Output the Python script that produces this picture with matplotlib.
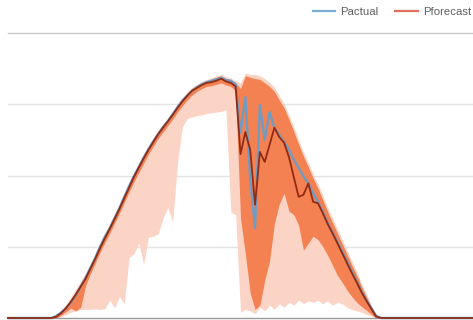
import matplotlib
matplotlib.use("Agg")
import matplotlib.pyplot as plt
import numpy as np

# 15-minute slots over one day (0..96)
slots = list(range(97))

p_actual = [0, 0, 0, 0, 0, 0, 0, 0, 0, 0.0,
            0.03, 0.08, 0.14, 0.22, 0.32, 0.44, 0.56, 0.70, 0.84, 1.00,
            1.14, 1.26, 1.40, 1.54, 1.70, 1.85, 1.99, 2.12, 2.25, 2.37,
            2.48, 2.58, 2.68, 2.76, 2.86, 2.96, 3.05, 3.12, 3.19, 3.24,
            3.28, 3.31, 3.33, 3.35, 3.37, 3.34, 3.33, 3.28, 2.60, 3.10,
            1.94, 1.26, 2.99, 2.50, 2.89, 2.67, 2.57, 2.47, 2.36, 2.22,
            2.11, 1.99, 1.89, 1.75, 1.63, 1.49, 1.33, 1.20, 1.07, 0.93,
            0.79, 0.65, 0.51, 0.37, 0.25, 0.14, 0.03, 0, 0, 0,
            0, 0, 0, 0, 0, 0, 0, 0, 0, 0,
            0, 0, 0, 0, 0, 0, 0]

p_forecast = [0, 0, 0, 0, 0, 0, 0, 0, 0, 0.0,
              0.02, 0.07, 0.14, 0.23, 0.33, 0.44, 0.55, 0.69, 0.83, 0.98,
              1.12, 1.25, 1.39, 1.53, 1.68, 1.83, 1.98, 2.11, 2.24, 2.36,
              2.47, 2.58, 2.67, 2.76, 2.85, 2.95, 3.04, 3.12, 3.19, 3.23,
              3.27, 3.30, 3.31, 3.33, 3.36, 3.32, 3.30, 3.25, 2.30, 2.61,
              2.36, 1.59, 2.33, 2.19, 2.43, 2.67, 2.54, 2.46, 2.26, 1.98,
              1.70, 1.73, 1.89, 1.63, 1.61, 1.47, 1.32, 1.19, 1.05, 0.91,
              0.77, 0.63, 0.50, 0.36, 0.24, 0.13, 0.02, 0, 0, 0,
              0, 0, 0, 0, 0, 0, 0, 0, 0, 0,
              0, 0, 0, 0, 0, 0, 0]

# wide prediction interval
band_wide_low = [0, 0, 0, 0, 0, 0, 0, 0, 0, 0.0,
                 0.0, 0.02, 0.05, 0.08, 0.10, 0.12, 0.12, 0.12, 0.13, 0.12,
                 0.13, 0.25, 0.14, 0.30, 0.20, 0.85, 0.90, 1.05, 0.75, 1.13,
                 1.15, 1.18, 1.40, 1.55, 1.35, 2.18, 2.68, 2.80, 2.82, 2.84,
                 2.85, 2.87, 2.88, 2.89, 2.90, 2.92, 1.48, 1.45, 0.08, 0.12,
                 0.10, 0.06, 0.15, 0.10, 0.18, 0.12, 0.20, 0.15, 0.22, 0.18,
                 0.25, 0.20, 0.24, 0.22, 0.25, 0.20, 0.24, 0.18, 0.22, 0.20,
                 0.15, 0.12, 0.10, 0.08, 0.05, 0.03, 0.0, 0, 0, 0,
                 0, 0, 0, 0, 0, 0, 0, 0, 0, 0,
                 0, 0, 0, 0, 0, 0, 0]

band_wide_high = [0, 0, 0, 0, 0, 0, 0, 0, 0, 0.0,
                  0.05, 0.11, 0.19, 0.30, 0.41, 0.52, 0.63, 0.76, 0.90, 1.05,
                  1.19, 1.32, 1.46, 1.60, 1.75, 1.90, 2.04, 2.17, 2.30, 2.42,
                  2.53, 2.63, 2.72, 2.81, 2.90, 3.00, 3.09, 3.17, 3.24, 3.28,
                  3.32, 3.35, 3.37, 3.40, 3.42, 3.39, 3.37, 3.33, 3.30, 3.44,
                  3.42, 3.42, 3.40, 3.36, 3.31, 3.24, 3.12, 3.01, 2.85, 2.68,
                  2.50, 2.33, 2.18, 2.02, 1.88, 1.72, 1.55, 1.40, 1.25, 1.10,
                  0.95, 0.80, 0.65, 0.48, 0.34, 0.18, 0.04, 0, 0, 0,
                  0, 0, 0, 0, 0, 0, 0, 0, 0, 0,
                  0, 0, 0, 0, 0, 0, 0]

# narrow prediction interval
band_narrow_low = [0, 0, 0, 0, 0, 0, 0, 0, 0, 0.0,
                   0.0, 0.04, 0.09, 0.14, 0.10, 0.15, 0.45, 0.62, 0.77, 0.92,
                   1.06, 1.19, 1.33, 1.47, 1.62, 1.77, 1.91, 2.04, 2.17, 2.30,
                   2.41, 2.52, 2.61, 2.70, 2.79, 2.89, 2.98, 3.06, 3.13, 3.18,
                   3.22, 3.25, 3.26, 3.28, 3.30, 3.27, 3.25, 3.18, 1.40, 0.90,
                   0.35, 0.12, 0.18, 0.53, 0.80, 1.33, 1.60, 1.75, 1.50, 1.45,
                   1.30, 0.95, 1.05, 1.15, 1.10, 1.00, 0.88, 0.74, 0.60, 0.50,
                   0.39, 0.30, 0.22, 0.16, 0.11, 0.05, 0.0, 0, 0, 0,
                   0, 0, 0, 0, 0, 0, 0, 0, 0, 0,
                   0, 0, 0, 0, 0, 0, 0]

band_narrow_high = [0, 0, 0, 0, 0, 0, 0, 0, 0, 0.0,
                    0.04, 0.09, 0.17, 0.27, 0.37, 0.48, 0.59, 0.73, 0.87, 1.02,
                    1.16, 1.29, 1.43, 1.57, 1.72, 1.87, 2.01, 2.14, 2.27, 2.39,
                    2.50, 2.61, 2.70, 2.79, 2.88, 2.98, 3.07, 3.15, 3.22, 3.26,
                    3.30, 3.33, 3.35, 3.38, 3.40, 3.36, 3.34, 3.30, 3.22, 3.40,
                    3.38, 3.36, 3.35, 3.30, 3.25, 3.18, 3.06, 2.95, 2.79, 2.62,
                    2.44, 2.27, 2.12, 1.96, 1.82, 1.66, 1.49, 1.34, 1.19, 1.04,
                    0.89, 0.74, 0.60, 0.44, 0.30, 0.15, 0.03, 0, 0, 0,
                    0, 0, 0, 0, 0, 0, 0, 0, 0, 0,
                    0, 0, 0, 0, 0, 0, 0]

y_grid = [1, 2, 3]

W, H = 473, 320
fig = plt.figure(figsize=(W / 100, H / 100), dpi=100)
ax = fig.add_axes([8 / W, 2 / H, 465 / W, 285 / H])

for g in y_grid:
    ax.axhline(g, color="#e4e4e4", lw=1.0, zorder=0)
ax.axhline(4, color="#c9c9c9", lw=1.0, zorder=0, clip_on=False)

ax.fill_between(slots, band_wide_low, band_wide_high, color="#fcd4c6",
                lw=0, zorder=1)
ax.fill_between(slots, band_narrow_low, band_narrow_high, color="#f47d4b",
                lw=0, alpha=0.95, zorder=2)

la, = ax.plot(slots, p_actual, color="#6f9cc4", lw=1.7, zorder=3,
              clip_on=False, solid_joinstyle="round")
lf, = ax.plot(slots, p_forecast, color="#932a12", lw=1.3, zorder=4,
              clip_on=False, solid_joinstyle="round")

ax.set_xlim(0, 96)
ax.set_ylim(0, 4)
ax.set_xticks([])
ax.set_yticks([])
for side in ("top", "right", "left"):
    ax.spines[side].set_visible(False)
ax.spines["bottom"].set_color("#9a9a9a")
ax.spines["bottom"].set_linewidth(1.0)

h1 = plt.Line2D([], [], color="#7aaed8", lw=1.6)
h2 = plt.Line2D([], [], color="#e0705a", lw=1.6)
fig.legend([h1, h2], ["Pactual", "Pforecast"], loc="center right",
           bbox_to_anchor=(471 / W, 1 - 12 / H), ncol=2, frameon=False,
           prop={"family": "Liberation Sans", "size": 8.2},
           labelcolor="#606060", handlelength=1.95, handletextpad=0.45,
           columnspacing=1.5, borderaxespad=0, borderpad=0)

fig.savefig("out.png", dpi=100)
